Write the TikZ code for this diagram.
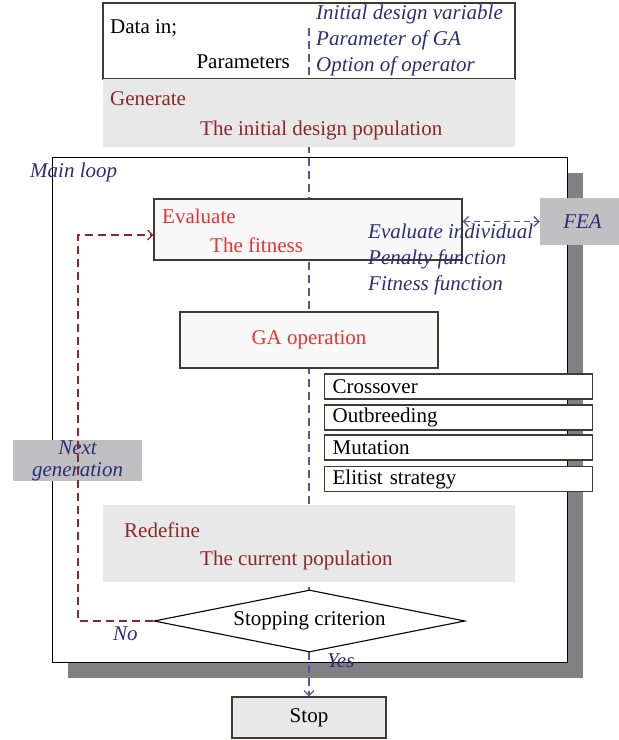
\documentclass[tikz,border=0pt]{standalone}
\usepackage{fontspec}
\setmainfont{Liberation Serif}
\usepackage{tikz}
\usetikzlibrary{shapes.geometric, shadows, backgrounds, arrows.meta}

\definecolor{labelblue}{RGB}{45,45,120}
\definecolor{spineblue}{RGB}{85,85,160}
\definecolor{darkred}{RGB}{140,40,40}
\definecolor{brightred}{RGB}{236,50,50}
\definecolor{boxgray}{RGB}{232,232,232}
\definecolor{tabgray}{RGB}{192,192,194}
\definecolor{shadowgray}{RGB}{128,128,133}
\definecolor{edgecol}{RGB}{60,60,50}

\begin{document}
\begin{tikzpicture}[x=1pt, y=-1pt,
        font=\fontsize{21}{26}\selectfont,
        >={Straight Barb[length=5pt,width=10pt]},
        framebox/.style={draw=edgecol, line width=1.2pt, inner sep=0pt},
        grayblock/.style={fill=boxgray, inner sep=0pt},
        optbox/.style={draw=edgecol, line width=1.2pt, fill=white, minimum width=268pt, minimum height=25pt, anchor=west, inner xsep=8pt, inner ysep=0pt},
        note/.style={text=labelblue, font=\fontsize{21}{26}\selectfont\itshape, align=left, inner sep=0pt},
        redtext/.style={text=brightred, inner sep=0pt},
        darktext/.style={text=darkred, inner sep=0pt},
        spine/.style={->, spineblue, line width=1.2pt, dash pattern=on 8pt off 5pt},
        backloop/.style={->, darkred, line width=1.2pt, dash pattern=on 8pt off 5pt}
    ]
    \useasboundingbox (0,0) rectangle (619,740);
    % Nodes
    \node[framebox, minimum width=412pt, minimum height=76pt] (datain) at (309,41) {};
    \node[anchor=west, inner sep=0pt] (datatext) at (110,28) {Data in;};
    \node[anchor=east, inner sep=0pt] (paramtext) at (290,62) {Parameters};
    \node[note, anchor=west] (inputnote) at (316,40) {Initial design variable\\Parameter of GA\\Option of operator};

    \node[grayblock, minimum width=412pt, minimum height=68pt] (generate) at (309,113) {};
    \node[darktext, anchor=west] (generatetext) at (110,99) {Generate};
    \node[darktext, anchor=west] (initialtext) at (200,130) {The initial design population};

    \node[note, anchor=west] (mainlooplabel) at (30,172) {Main loop};

    \node[framebox, fill={rgb,255:red,248;green,248;blue,248}, minimum width=308pt, minimum height=61pt] (evaluate) at (308,229.5) {};
    \node[redtext, anchor=west] (evaluatetext) at (162,216) {Evaluate};
    \node[redtext, anchor=west] (fitnesstext) at (210,245) {The fitness};
    \node[note, anchor=west] (evalnote) at (368,259) {Evaluate individual\\Penalty function\\Fitness function};

    \node[fill=tabgray, text=labelblue, font=\fontsize{21}{26}\selectfont\itshape, minimum width=79pt, minimum height=47pt, inner sep=0pt] (fea) at (579.5,221.5) {\hspace{6pt}FEA};

    \node[framebox, fill={rgb,255:red,248;green,248;blue,248}, minimum width=258pt, minimum height=56pt, text=brightred] (gaop) at (309,340) {GA operation};

    \node[optbox, text width=252pt] (crossover) at (324,386.5) {Crossover};
    \node[optbox, text width=252pt] (outbreeding) at (324,417.5) {Outbreeding};
    \node[optbox, text width=252pt] (mutation) at (324,447.5) {Mutation};
    \node[optbox, text width=252pt] (elitist) at (324,479) {Elitist strategy};

    \node[fill=tabgray, text=labelblue, font=\fontsize{21}{22}\selectfont\itshape, align=center, minimum width=129pt, minimum height=41pt, inner sep=0pt] (nextgen) at (77.5,460.5) {Next\\generation};

    \node[grayblock, minimum width=412pt, minimum height=77pt] (redefine) at (309,543.5) {};
    \node[darktext, anchor=west] (redefinetext) at (124,530) {Redefine};
    \node[darktext, anchor=west] (currenttext) at (200,560) {The current population};

    \node[diamond, draw=black, line width=1.1pt, fill=white, aspect=5, inner sep=0pt, minimum width=311pt, minimum height=62pt] (stopcrit) at (309.5,621) {Stopping criterion};
    \node[note, anchor=west] (nolabel) at (113,634) {No};
    \node[note, anchor=west] (yeslabel) at (327,661) {Yes};

    \node[framebox, fill=boxgray, minimum width=154pt, minimum height=41pt] (stop) at (309,717.5) {Stop};

    \coordinate (spinetop) at (309,28);
    \coordinate (loopcorner) at (78,235);

    % Arrows
    \draw[<->, spineblue, line width=1.3pt, dash pattern=on 6pt off 4pt] (evaluate.east |- fea.west) -- (fea.west);
    \draw[backloop] (stopcrit.west) -| (loopcorner) -- (evaluate.west |- loopcorner);

    \begin{scope}[on background layer]
    \node[draw=black, line width=1pt, fill=white, minimum width=515pt, minimum height=505pt, drop shadow={shadow xshift=16pt, shadow yshift=-16pt, fill=shadowgray, opacity=1}] (mainloop) at (309.5,409.5) {};
    \draw[spine] (spinetop) -- (stop.north);
    \end{scope}
\end{tikzpicture}
\end{document}
